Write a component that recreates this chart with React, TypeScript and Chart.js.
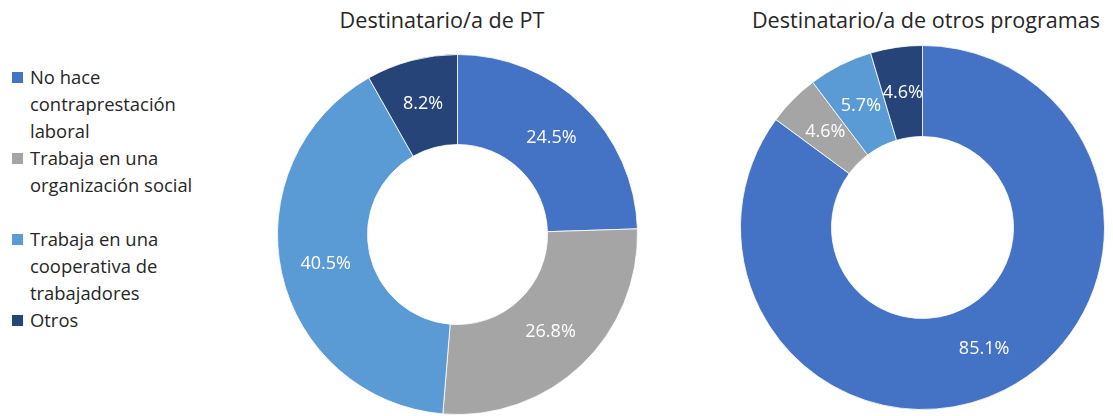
import React, { useEffect, useRef } from "react";
import { Chart, registerables } from "chart.js";

Chart.register(...registerables);

const categories = [
  "No hace contraprestación laboral",
  "Trabaja en una organización social",
  "Trabaja en una cooperativa de trabajadores",
  "Otros",
];
const legendLines = [
  ["No hace", "contraprestación", "laboral"],
  ["Trabaja en una", "organización social", ""],
  ["Trabaja en una", "cooperativa de", "trabajadores"],
  ["Otros"],
];
const colors = ["#4472C4", "#A5A5A5", "#5B9BD5", "#264478"];
const titlePT = "Destinatario/a de PT";
const titleOtros = "Destinatario/a de otros programas";
const valuesPT = [24.5, 26.8, 40.5, 8.2];
const valuesOtros = [85.1, 4.6, 5.7, 4.6];

const labelPlugin = {
  id: "sliceLabels",
  afterDatasetsDraw(chart: any) {
    const ctx = chart.ctx;
    const meta = chart.getDatasetMeta(0);
    const data = chart.data.datasets[0].data;
    ctx.save();
    ctx.fillStyle = "#FFFFFF";
    ctx.font = '18px "Open Sans", sans-serif';
    ctx.textAlign = "center";
    ctx.textBaseline = "middle";
    meta.data.forEach((arc: any, i: number) => {
      const p = arc.getCenterPoint();
      ctx.fillText(data[i].toFixed(1) + "%", p.x, p.y);
    });
    ctx.restore();
  },
};

function Donut({ values, left, top, size }: { values: number[]; left: number; top: number; size: number }) {
  const ref = useRef<HTMLCanvasElement | null>(null);
  useEffect(() => {
    if (!ref.current) return;
    const chart = new Chart(ref.current, {
      type: "doughnut",
      data: {
        labels: categories,
        datasets: [
          {
            data: values,
            backgroundColor: colors,
            borderColor: "rgba(255,255,255,0.8)",
            borderWidth: 1,
          },
        ],
      },
      options: {
        responsive: false,
        animation: false,
        cutout: "50%",
        layout: { padding: 0 },
        plugins: { legend: { display: false }, tooltip: { enabled: false }, title: { display: false } },
      },
      plugins: [labelPlugin],
    });
    return () => chart.destroy();
  }, []);
  return (
    <div style={{ position: "absolute", left, top, width: size, height: size }}>
      <canvas ref={ref} width={size} height={size} style={{ width: size, height: size }} />
    </div>
  );
}

export default function App() {
  const font = '"Open Sans", sans-serif';
  const lh = 27;
  let y = 63;
  const legendItems: React.ReactNode[] = [];
  legendLines.forEach((lines, i) => {
    const startY = y;
    legendItems.push(
      <div key={i} style={{ position: "absolute", left: 0, top: startY, width: 240 }}>
        <div style={{ position: "absolute", left: 12, top: 9, width: 11, height: 11, background: colors[i] }} />
        {lines.map((t, j) => (
          <div key={j} style={{ position: "absolute", left: 30, top: j * lh, height: lh, lineHeight: lh + "px", whiteSpace: "nowrap" }}>
            {t}
          </div>
        ))}
      </div>
    );
    y += lines.length * lh;
  });
  return (
    <div style={{ position: "fixed", left: 0, top: 0, width: 1113, height: 416, background: "#FFFFFF", overflow: "hidden", fontFamily: font, color: "#262626" }}>
      <div style={{ position: "absolute", left: 0, top: 0, width: 240, height: 416, fontSize: 18.4 }}>{legendItems}</div>
      <div style={{ position: "absolute", left: 442 - 200, top: 5, width: 400, textAlign: "center", fontSize: 21.6, lineHeight: "30px", whiteSpace: "nowrap" }}>
        {titlePT}
      </div>
      <div style={{ position: "absolute", left: 926 - 200, top: 5, width: 400, textAlign: "center", fontSize: 21.6, lineHeight: "30px", whiteSpace: "nowrap" }}>
        {titleOtros}
      </div>
      <Donut values={valuesPT} left={277} top={54} size={361} />
      <Donut values={valuesOtros} left={740} top={45} size={365} />
    </div>
  );
}
